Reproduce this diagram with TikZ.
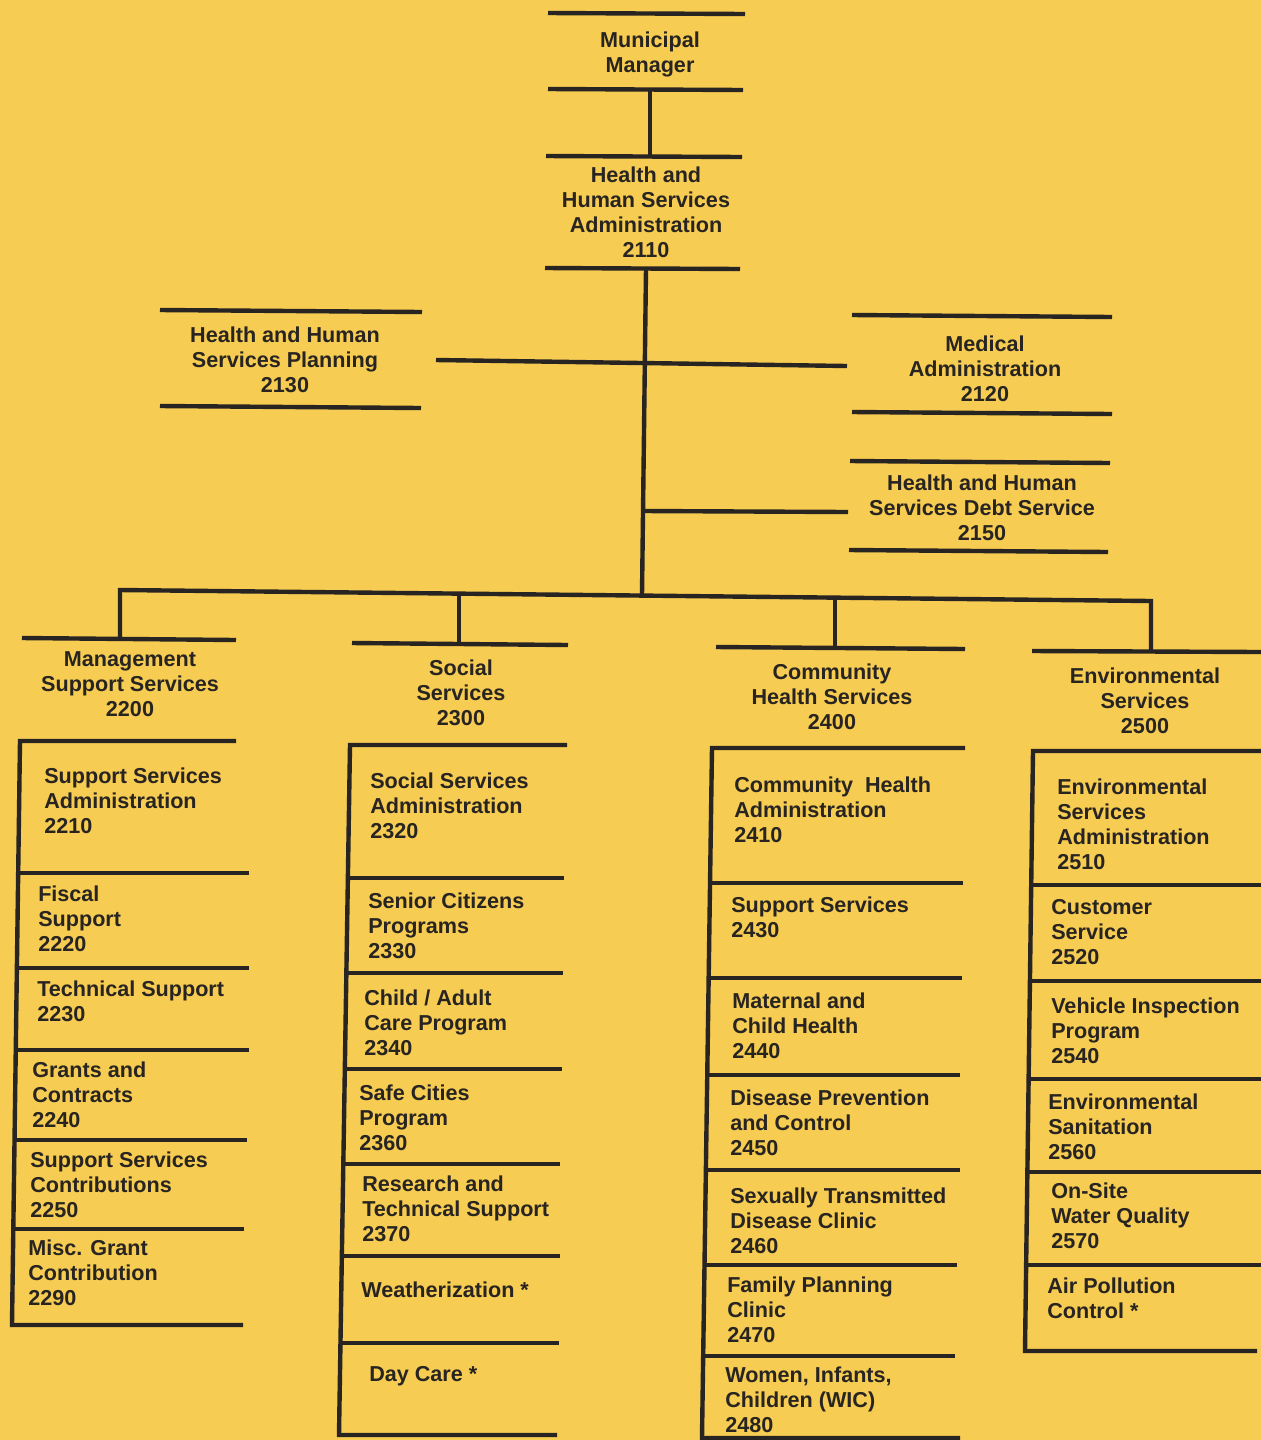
\documentclass[tikz,border=0pt]{standalone}
\usepackage{fontspec}
\setmainfont{Liberation Sans}
\definecolor{paper}{RGB}{246,204,82}
\definecolor{ink}{RGB}{40,36,33}
\tikzset{
  bar/.style={draw=ink, line width=3.3pt, line join=miter},
  unit/.style={anchor=base west, inner sep=0.75pt, align=left, text=ink, font=\bfseries\fontsize{16.2}{18.75}\selectfont},
  head/.style={unit, anchor=base, align=center},
}
\begin{document}
\begin{tikzpicture}[x=0.75pt,y=0.75pt,yscale=-1,xscale=1]
%set diagram size: 1261 x 1440 (text nodes sit on the baseline of their last line)
\useasboundingbox [fill=paper] (0,0) rectangle (1261,1440);

%Municipal Manager
\draw [bar] (548,13) -- (745,14) ;
\draw (650,72) node (mm) [head] {Municipal\\Manager};
\draw [bar] (548,89) -- (743,90) ;
\coordinate (mmB) at (650,89.5);
\coordinate (hhsT) at (650,156.5);
\draw [bar] (mmB) -- (hhsT) ;

%Health and Human Services Administration
\draw [bar] (546,156) -- (742,157) ;
\draw (646,257) node (hhs) [head] {Health and\\Human Services\\Administration\\2110};
\draw [bar] (545,268) -- (740,269) ;
\coordinate (hhsB) at (646,268.5);
\coordinate (busJ) at (642,595);
\draw [bar] (hhsB) -- (busJ) ;

%Staff units
\coordinate (crossL) at (436,360);
\coordinate (crossR) at (847,366);
\draw [bar] (crossL) -- (crossR) ;
\draw [bar] (160,310) -- (422,312) ;
\draw (285,392) node (plan) [head] {Health and Human\\Services Planning\\2130};
\draw [bar] (160,406) -- (421,408) ;
\draw [bar] (852,315) -- (1112,317) ;
\draw (985,401) node (med) [head] {Medical\\Administration\\2120};
\draw [bar] (852,412) -- (1112,414) ;
\coordinate (debtJ) at (644,511);
\coordinate (debtR) at (848,512);
\draw [bar] (debtJ) -- (debtR) ;
\draw [bar] (850,461) -- (1110,463) ;
\draw (982,540) node (debt) [head] {Health and Human\\Services Debt Service\\2150};
\draw [bar] (849,550) -- (1108,552) ;

%Main bus to the divisions
\coordinate (busL) at (120,590);
\coordinate (busR) at (1151,601);
\coordinate (mgtT) at (120,639);
\coordinate (socT) at (459,644);
\coordinate (comT) at (835,648);
\coordinate (envT) at (1151,652);
\draw [bar] (mgtT) -- (busL) -- (busR) -- (envT) ;
\draw [bar] (459,593) -- (socT) ;
\draw [bar] (835,597) -- (comT) ;

%Division heads
\draw [bar] (22,638) -- (236,640) ;
\draw (130,716) node (mgt) [head] {Management\\Support Services\\2200};
\draw [bar] (352,643) -- (568,645) ;
\draw (461,725) node (soc) [head] {Social\\Services\\2300};
\draw [bar] (716,647) -- (965,649) ;
\draw (832,729) node (com) [head] {Community\\Health Services\\2400};
\draw [bar] (1032,651) -- (1261,652) ;
\draw (1145,733) node (env) [head] {Environmental\\Services\\2500};

%Management Support Services column
\draw [bar] (236,741) -- (20,741) -- (12,1325) -- (243,1325) ;
\draw [bar] (18.2,873) -- (249,873) ;
\draw [bar] (16.9,968) -- (249,968) ;
\draw [bar] (15.8,1050) -- (249,1050) ;
\draw [bar] (14.5,1140) -- (247,1140) ;
\draw [bar] (13.3,1229) -- (244,1229) ;
\draw (43,833) node (u2210) [unit] {Support Services\\Administration\\2210};
\draw (37,951) node (u2220) [unit] {Fiscal\\Support\\2220};
\draw (36,1021) node (u2230) [unit] {Technical Support\\2230};
\draw (31,1127) node (u2240) [unit] {Grants and\\Contracts\\2240};
\draw (29,1217) node (u2250) [unit] {Support Services\\Contributions\\2250};
\draw (27,1305) node (u2290) [unit] {Misc. Grant\\Contribution\\2290};

%Social Services column
\draw [bar] (567,745) -- (350,745) -- (339,1435) -- (557,1435) ;
\draw [bar] (347.9,878) -- (564,878) ;
\draw [bar] (346.4,973) -- (563,973) ;
\draw [bar] (344.8,1069) -- (562,1069) ;
\draw [bar] (343.3,1164) -- (560,1164) ;
\draw [bar] (341.9,1256) -- (560,1256) ;
\draw [bar] (340.5,1343) -- (559,1343) ;
\draw (369,838) node (u2320) [unit] {Social Services\\Administration\\2320};
\draw (367,958) node (u2330) [unit] {Senior Citizens\\Programs\\2330};
\draw (363,1055) node (u2340) [unit] {Child / Adult\\Care Program\\2340};
\draw (358,1150) node (u2360) [unit] {Safe Cities\\Program\\2360};
\draw (361,1241) node (u2370) [unit] {Research and\\Technical Support\\2370};
\draw (360,1297) node (uweat) [unit] {Weatherization *};
\draw (368,1381) node (uday) [unit] {Day Care *};

%Community Health Services column
\draw [bar] (965,748) -- (712,748) -- (702,1438) -- (960,1438) ;
\draw [bar] (710,883) -- (963,883) ;
\draw [bar] (708.7,978) -- (962,978) ;
\draw [bar] (707.3,1075) -- (960,1075) ;
\draw [bar] (705.9,1170) -- (960,1170) ;
\draw [bar] (704.5,1265) -- (957,1265) ;
\draw [bar] (703.2,1356) -- (955,1356) ;
\draw (733,842) node (u2410) [unit] {Community\ \ Health\\Administration\\2410};
\draw (730,937) node (u2430) [unit] {Support Services\\2430};
\draw (731,1058) node (u2440) [unit] {Maternal and\\Child Health\\2440};
\draw (729,1155) node (u2450) [unit] {Disease Prevention\\and Control\\2450};
\draw (729,1253) node (u2460) [unit] {Sexually Transmitted\\Disease Clinic\\2460};
\draw (726,1342) node (u2470) [unit] {Family Planning\\Clinic\\2470};
\draw (724,1432) node (u2480) [unit] {Women, Infants,\\Children (WIC)\\2480};

%Environmental Services column
\draw [bar] (1261,751) -- (1033,751) -- (1025,1351) -- (1257,1351) ;
\draw [bar] (1031.2,885) -- (1261,885) ;
\draw [bar] (1029.9,981) -- (1261,981) ;
\draw [bar] (1028.6,1079) -- (1261,1079) ;
\draw [bar] (1027.4,1172) -- (1261,1172) ;
\draw [bar] (1026.1,1265) -- (1261,1265) ;
\draw (1056,869) node (u2510) [unit] {Environmental\\Services\\Administration\\2510};
\draw (1050,964) node (u2520) [unit] {Customer\\Service\\2520};
\draw (1050,1063) node (u2540) [unit] {Vehicle Inspection\\Program\\2540};
\draw (1047,1159) node (u2560) [unit] {Environmental\\Sanitation\\2560};
\draw (1050,1248) node (u2570) [unit] {On-Site\\Water Quality\\2570};
\draw (1046,1318) node (uair) [unit] {Air Pollution\\Control *};

\end{tikzpicture}
\end{document}
